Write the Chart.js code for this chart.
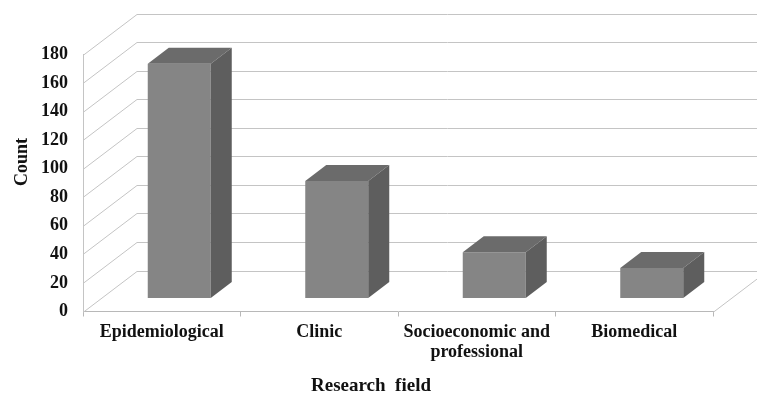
<!DOCTYPE html>
<html><head><meta charset="utf-8">
<script src="https://cdn.jsdelivr.net/npm/chart.js@4/dist/chart.umd.min.js"></script>
<style>html,body{margin:0;padding:0;background:#fff}#wrap{width:757px;height:397px;position:relative}</style>
</head><body><div id="wrap"><canvas id="c"></canvas></div>
<script>
const categories = ['Epidemiological', 'Clinic', ['Socioeconomic and', 'professional'], 'Biomedical'];
const counts = [164, 82, 32, 21];
const yTickValues = [0, 20, 40, 60, 80, 100, 120, 140, 160, 180];
const yMin = 0, yMax = 180, yStep = 20;
const xTitle = 'Research  field';
const yTitle = 'Count';

const WALL = {dx: 54, dy: -41};
const BAR_SHIFT = {dx: 17.5, dy: -13.5};
const BAR_DEPTH = {dx: 21, dy: -16};
const GRID = '#c4c4c4';
const FONT = "'Liberation Serif', 'Times New Roman', serif";

const plugin3d = {
  id: 'p3d',
  beforeDatasetsDraw(chart) {
    const {ctx, chartArea: a, scales: {y}} = chart;
    ctx.save();
    ctx.strokeStyle = GRID; ctx.lineWidth = 1;
    yTickValues.forEach(v => {
      const py = Math.round(y.getPixelForValue(v)) + 0.5;
      ctx.beginPath();
      ctx.moveTo(a.left, py);
      ctx.lineTo(a.left + WALL.dx, py + WALL.dy);
      ctx.lineTo(a.right + WALL.dx + 20, py + WALL.dy);
      ctx.stroke();
    });
    const py0 = Math.round(y.getPixelForValue(0)) + 0.5;
    ctx.beginPath();
    ctx.moveTo(a.right, py0);
    ctx.lineTo(a.right + WALL.dx, py0 + WALL.dy);
    ctx.stroke();
    ctx.restore();
    ctx.save();
    ctx.translate(BAR_SHIFT.dx, BAR_SHIFT.dy);
  },
  afterDatasetsDraw(chart) {
    const ctx = chart.ctx;
    const meta = chart.getDatasetMeta(0);
    meta.data.forEach(bar => {
      const {x, y, base, width} = bar.getProps(['x', 'y', 'base', 'width'], true);
      const l = x - width / 2, r = x + width / 2;
      ctx.fillStyle = '#6b6b6b';
      ctx.beginPath();
      ctx.moveTo(l, y); ctx.lineTo(r, y);
      ctx.lineTo(r + BAR_DEPTH.dx, y + BAR_DEPTH.dy);
      ctx.lineTo(l + BAR_DEPTH.dx, y + BAR_DEPTH.dy);
      ctx.closePath(); ctx.fill();
      ctx.fillStyle = '#5e5e5e';
      ctx.beginPath();
      ctx.moveTo(r, y);
      ctx.lineTo(r + BAR_DEPTH.dx, y + BAR_DEPTH.dy);
      ctx.lineTo(r + BAR_DEPTH.dx, base + BAR_DEPTH.dy);
      ctx.lineTo(r, base);
      ctx.closePath(); ctx.fill();
    });
    ctx.restore();

    ctx.save();
    ctx.fillStyle = '#111';
    ctx.textAlign = 'center'; ctx.textBaseline = 'middle';
    ctx.font = 'bold 19px ' + FONT;
    ctx.fillText(xTitle, 371, 386);
    ctx.translate(22, 162);
    ctx.rotate(-Math.PI / 2);
    ctx.font = 'bold 18px ' + FONT;
    ctx.fillText(yTitle, 0, 0);
    ctx.restore();
  }
};

new Chart(document.getElementById('c'), {
  type: 'bar',
  data: {
    labels: categories,
    datasets: [{
      data: counts,
      backgroundColor: '#858585',
      borderWidth: 0,
      barPercentage: 0.4,
      categoryPercentage: 1.0
    }]
  },
  options: {
    responsive: true,
    maintainAspectRatio: false,
    animation: false,
    devicePixelRatio: 1,
    layout: {padding: {left: 0, right: 44, top: 54.5, bottom: 0}},
    plugins: {legend: {display: false}, tooltip: {enabled: false}},
    scales: {
      x: {
        grid: {drawOnChartArea: false, drawTicks: true, tickLength: 5, color: '#b8b8b8', offset: true},
        border: {display: true, color: '#b8b8b8'},
        ticks: {color: '#111', font: {family: FONT, size: 18, weight: 'bold', lineHeight: 1.12}, padding: 6, maxRotation: 0, autoSkip: false},
        afterFit(s) { s.height = 85.5; }
      },
      y: {
        min: yMin, max: yMax,
        grid: {display: false},
        border: {display: true, color: GRID},
        ticks: {stepSize: yStep, color: '#111', font: {family: FONT, size: 18, weight: 'bold'}, padding: 7},
        afterFit(s) { s.width = 83; }
      }
    }
  },
  plugins: [plugin3d]
});
</script>
</body></html>
